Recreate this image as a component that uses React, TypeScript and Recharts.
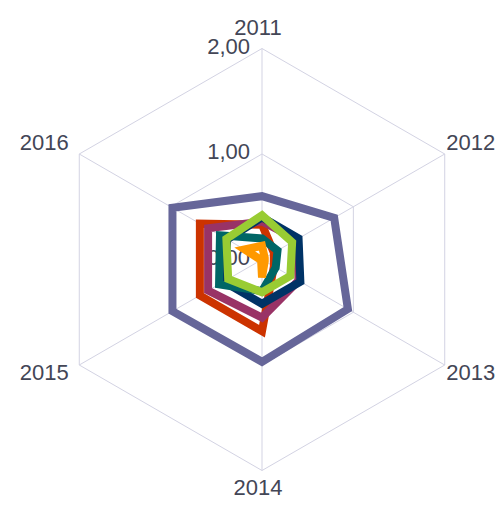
import React from "react";
import { RadarChart, Radar, PolarGrid, PolarAngleAxis, PolarRadiusAxis } from "recharts";

const years = ["2011", "2012", "2013", "2014", "2015", "2016"];
const seriesA = [0.6, 0.79, 0.94, 0.97, 0.98, 0.98];
const seriesB = [0.33, 0.13, 0.13, 0.68, 0.68, 0.68];
const seriesC = [0.36, 0.38, 0.4, 0.55, 0.59, 0.59];
const seriesD = [0.4, 0.4, 0.42, 0.42, 0.42, 0.38];
const seriesE = [0.2, 0.17, 0.15, 0.3, 0.47, 0.46];
const seriesF = [0.42, 0.33, 0.31, 0.31, 0.37, 0.39];
const seriesG = [0.13, 0.03, 0.03, 0.17, 0.01, 0.19];
const radiusTicks = [0, 1, 2];

const seriesList = [
  { key: "A", values: seriesA, color: "#666699" },
  { key: "B", values: seriesB, color: "#cc3300" },
  { key: "C", values: seriesC, color: "#993366" },
  { key: "D", values: seriesD, color: "#003366" },
  { key: "E", values: seriesE, color: "#006666" },
  { key: "F", values: seriesF, color: "#99cc33" },
  { key: "G", values: seriesG, color: "#ff9900" },
];

const data = years.map((y, i) => {
  const row: any = { year: y };
  seriesList.forEach((s) => (row[s.key] = s.values[i]));
  return row;
});

const CX = 262;
const CY = 259.5;
const R = 211;
const TEXT = "#434656";
const FONT = "'Liberation Sans', Arial, sans-serif";

const AngleTick = (props: any) => {
  const { payload } = props;
  const ang = (payload.coordinate * Math.PI) / 180;
  const c = Math.cos(ang);
  const s = Math.sin(ang);
  const vx = CX + R * c;
  const vy = CY - R * s;
  let anchor: any = "middle";
  let x = vx - 4;
  if (c > 0.1) {
    anchor = "start";
    x = vx + 1.5;
  } else if (c < -0.1) {
    anchor = "end";
    x = vx - 10.5;
  }
  const y = vy - 19 * s + 5.5;
  return (
    <text x={x} y={y} textAnchor={anchor} fill={TEXT} fontSize={22} fontFamily={FONT}>
      {payload.value}
    </text>
  );
};

const RadiusTick = (props: any) => {
  const { x, y, payload } = props;
  return (
    <text x={x - 12} y={y + 5} textAnchor="end" fill={TEXT} fontSize={22} fontFamily={FONT}>
      {Number(payload.value).toFixed(2).replace(".", ",")}
    </text>
  );
};

export default function App() {
  return (
    <div style={{ position: "absolute", left: 0, top: 0, width: 503, height: 509, background: "#fff" }}>
      <RadarChart
        width={503}
        height={509}
        data={data}
        cx={CX}
        cy={CY}
        outerRadius={R}
        margin={{ top: 0, right: 0, bottom: 0, left: 0 }}
      >
        <PolarGrid gridType="polygon" stroke="#d3d3e3" strokeWidth={1} />
        <PolarRadiusAxis
          angle={90}
          domain={[0, 2]}
          ticks={radiusTicks as any}
          tickCount={3}
          axisLine={false}
          tickLine={false}
          tick={<RadiusTick />}
          zIndex={-50}
        />
        <PolarAngleAxis dataKey="year" tick={<AngleTick />} tickLine={false} axisLine={false} />
        {seriesList.map((s) => (
          <Radar
            key={s.key}
            name={s.key}
            dataKey={s.key}
            stroke={s.color}
            strokeWidth={8}
            fill="none"
            fillOpacity={0}
            isAnimationActive={false}
            dot={false}
          />
        ))}
      </RadarChart>
    </div>
  );
}
